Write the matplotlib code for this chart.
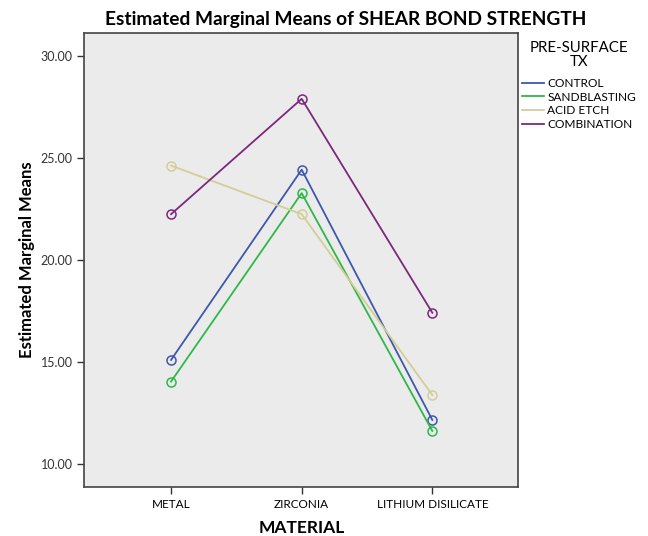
import matplotlib.pyplot as plt

materials = ['METAL', 'ZIRCONIA', 'LITHIUM DISILICATE']
control = [15.10, 24.42, 12.16]
sandblasting = [14.04, 23.27, 11.62]
acid_etch = [24.62, 22.24, 13.38]
combination = [22.24, 27.89, 17.41]

series = [
    ('CONTROL', control, '#3E58AC'),
    ('SANDBLASTING', sandblasting, '#2EB848'),
    ('ACID ETCH', acid_etch, '#D3CE97'),
    ('COMBINATION', combination, '#7C287D'),
]
yticks = [10, 15, 20, 25, 30]

plt.rcParams['font.family'] = ['Lato', 'DejaVu Sans']

W, H = 648, 536
fig = plt.figure(figsize=(W / 100, H / 100), dpi=100)
ax = fig.add_axes([84.3 / W, 1 - 486.7 / H, 434 / W, 454 / H])
ax.set_facecolor('#EBEBEB')

x = list(range(len(materials)))
for name, vals, col in series:
    ax.plot(x, vals, color=col, linewidth=1.3, marker='o', markersize=6.5,
            markerfacecolor='none', markeredgecolor=col, markeredgewidth=1.1,
            label=name)

ax.set_xlim(-0.664, 2.658)
ax.set_ylim(8.89, 31.13)
ax.set_xticks(x)
ax.set_xticklabels(materials, fontsize=8.5)
ax.set_yticks(yticks)
ax.set_yticklabels(['%.2f' % v for v in yticks], fontsize=9, color='#333333')
ax.tick_params(direction='out', length=5, width=1, color='#333333')
for s in ax.spines.values():
    s.set_color('#444444')
    s.set_linewidth(1.2)

# title centred over plot + legend area
fig.text(346 / W, 1 - 25 / H, 'Estimated Marginal Means of SHEAR BOND STRENGTH',
         ha='center', va='baseline', fontsize=13.8, fontweight='bold')
ax.set_xlabel('MATERIAL', fontsize=12.5, fontweight='bold')
ax.xaxis.set_label_coords(0.5, -0.0733)
ax.set_ylabel('Estimated Marginal Means', fontsize=12, fontweight='bold')
ax.yaxis.set_label_coords(-0.1136, 0.5)

# legend title drawn separately so its spacing can match
fig.text(579 / W, 1 - 55 / H, 'PRE-SURFACE\nTX', ha='center', va='center',
         fontsize=10.8, linespacing=1.0, multialignment='center')
leg = ax.legend(loc='upper left', bbox_to_anchor=(520 / W, 1 - 75.5 / H),
                bbox_transform=fig.transFigure, frameon=False,
                fontsize=8.6, handlelength=1.8, handletextpad=0.3,
                labelspacing=0.22, borderaxespad=0, borderpad=0.2)
for h in leg.get_lines():
    h.set_marker('')

fig.savefig('out.png', dpi=100)
